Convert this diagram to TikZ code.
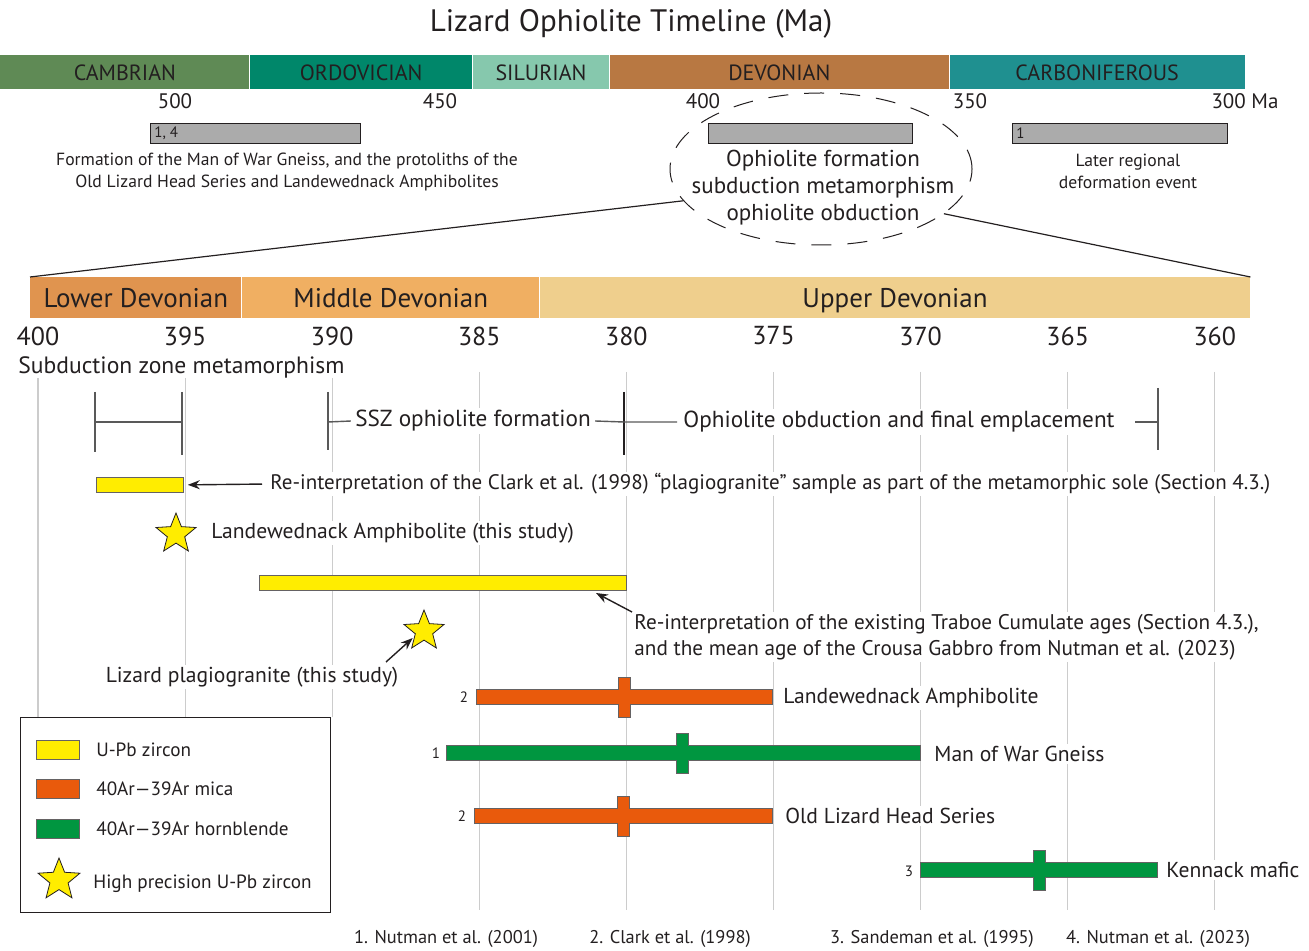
\documentclass[tikz,border=0pt]{standalone}
\usepackage{fontspec}
\setmainfont{PT Sans}
\usetikzlibrary{positioning}
\usetikzlibrary{shapes.geometric}
\usetikzlibrary{arrows.meta}
\definecolor{cambrian}{HTML}{5F8A55}
\definecolor{ordovician}{HTML}{00876A}
\definecolor{silurian}{HTML}{86C8AD}
\definecolor{devonian}{HTML}{B87842}
\definecolor{carbonif}{HTML}{1F9090}
\definecolor{lowdev}{HTML}{E0944F}
\definecolor{middev}{HTML}{F0AF62}
\definecolor{uppdev}{HTML}{EFCF8D}
\definecolor{zircon}{HTML}{FFED00}
\definecolor{mica}{HTML}{E95A0C}
\definecolor{hornbl}{HTML}{009640}
\definecolor{ink}{HTML}{231F20}
\definecolor{greyage}{HTML}{ABABAB}
\tikzset{
    period/.style = {rectangle, inner sep=0pt, minimum height=17pt, anchor=north west, text=ink, font=\fontsize{11}{13}\selectfont},
    stage/.style = {rectangle, inner sep=0pt, minimum height=20.5pt, anchor=north west, text=ink, text height=2ex, text depth=0ex, font=\fontsize{13.5}{15}\selectfont},
    tick/.style = {text=ink, font=\fontsize{13}{15}\selectfont, inner sep=0pt},
    mytick/.style = {text=ink, font=\fontsize{10.5}{12}\selectfont, inner sep=0pt},
    greybar/.style = {rectangle, draw=ink, fill=greyage, line width=0.4pt, inner sep=0pt, minimum height=10pt, anchor=north west},
    note/.style = {text=ink, align=center, font=\fontsize{8.8}{11}\selectfont, inner sep=0pt},
    lbl/.style = {text=ink, fill=white, font=\fontsize{10.8}{13}\selectfont, inner sep=1pt},
    grid/.style = {gray!40, line width=0.6pt},
    bracket/.style = {gray!70!black, line width=0.7pt},
    arr/.style = {-{Stealth[length=6pt,width=4.5pt]}, ink, line width=0.7pt},
    ubar/.style = {rectangle, draw=ink!70, fill=zircon, line width=0.4pt, inner sep=0pt, minimum height=7.5pt, anchor=north west},
    starz/.style = {star, star points=5, star point ratio=2.3, draw=ink, fill=zircon, minimum size=21pt, inner sep=0pt, line width=0.4pt},
    agebar/.style = {draw=ink!70, line width=0.4pt},
    barno/.style = {text=ink, font=\fontsize{7.5}{8}\selectfont, inner sep=0pt},
    ref/.style = {text=ink, font=\fontsize{9.2}{10}\selectfont, inner sep=0pt},
    swatch/.style = {rectangle, draw=ink!70, line width=0.4pt, minimum width=21.5pt, minimum height=9.5pt, inner sep=0pt},
    legtext/.style = {text=ink, font=\fontsize{9.6}{11}\selectfont, inner sep=0pt},
}
\newcommand{\xt}[1]{38+(400-#1)*29.42}
% cross-shaped age bar: x1, x2, centre x, centre y, colour
\newcommand{\crossbar}[5]{%
  \draw[agebar, fill=#5] (#1,#4-7.5) -- (#3-6,#4-7.5) -- (#3-6,#4-20) -- (#3+6,#4-20) -- (#3+6,#4-7.5) -- (#2,#4-7.5)
    -- (#2,#4+7.5) -- (#3+6,#4+7.5) -- (#3+6,#4+20) -- (#3-6,#4+20) -- (#3-6,#4+7.5) -- (#1,#4+7.5) -- cycle;}

\begin{document}
\begin{tikzpicture}[x=0.5pt, y=-0.5pt]
\useasboundingbox (0,0) rectangle (1309,951);

% grid of the Devonian scale
\foreach \t in {400,395,390}
  \draw[grid] ({\xt{\t}},378) -- ({\xt{\t}},717);
\foreach \t in {385,380,...,360}
  \draw[grid] ({\xt{\t}},372) -- ({\xt{\t}},910);

\node[font=\fontsize{15.5}{17}\selectfont, text=ink] (title) at (631,24) {Lizard Ophiolite Timeline (Ma)};

% geological periods
\node[period, fill=cambrian, minimum width=124.5pt] (cam) at (0,55) {CAMBRIAN};
\node[period, fill=ordovician, minimum width=111pt, right=0pt of cam] (ord) {ORDOVICIAN};
\node[period, fill=silurian, minimum width=68pt, right=0pt of ord] (sil) {SILURIAN};
\node[period, fill=devonian, minimum width=169.5pt, right=0pt of sil] (dev) {DEVONIAN};
\node[period, fill=carbonif, minimum width=147.5pt, right=0pt of dev] (carb) {CARBONIFEROUS};

\node[mytick] (m500) at (175,101) {500};
\node[mytick] (m450) at (440,101) {450};
\node[mytick] (m400) at (703,101) {400};
\node[mytick] (m350) at (970,101) {350};
\node[mytick] (m300) at (1245,101) {300 Ma};

\node[greybar, minimum width=105pt] (gb1) at (150,123) {};
\node[greybar, minimum width=102pt] (gb2) at (708,123) {};
\node[greybar, minimum width=107.5pt] (gb3) at (1012,123) {};
\node[barno, right=2pt of gb1.west] (gb1n) {1, 4};
\node[barno, right=2pt of gb3.west] (gb3n) {1};

\node[note] (protolith) at (287,172) {Formation of the Man of War Gneiss, and the protoliths of the\\Old Lizard Head Series and Landewednack Amphibolites};
\node[note] (laterdef) at (1128,171) {Later regional\\deformation event};
\node[note, font=\fontsize{11.5}{13.5}\selectfont] (ophnote) at (823,188) {Ophiolite formation\\subduction metamorphism\\ophiolite obduction};
\node[ellipse, draw=ink, line width=0.5pt, dash pattern=on 10pt off 8pt, minimum width=151pt, minimum height=76pt] (oval) at (821,169) {};

% Devonian stages
\node[stage, fill=lowdev, minimum width=105.5pt] (lower) at (30,277) {Lower Devonian};
\node[stage, fill=middev, minimum width=148.5pt, right=0pt of lower] (middle) {Middle Devonian};
\node[stage, fill=uppdev, minimum width=355pt, right=0pt of middle] (upper) {Upper Devonian};
\draw[ink, line width=0.6pt] (oval.193) -- (lower.north west);
\draw[ink, line width=0.6pt] (oval.340) -- (upper.north east);

\foreach \t in {400,395,...,360}
  \node[tick] (t\t) at ({\xt{\t}},336) {\t};

% events
\node[lbl, fill=none, anchor=west, font=\fontsize{11.8}{13}\selectfont] (subzone) at (16,367) {Subduction zone metamorphism};
\draw[bracket] (95,392) -- (95,452);
\draw[bracket] (182,392) -- (182,455);
\draw[bracket] (95,422) -- (182,422);

\node[lbl, inner xsep=2pt, font=\fontsize{11.6}{13}\selectfont] (ssz) at (473,421) {SSZ ophiolite formation};
\node[lbl, inner xsep=3pt, font=\fontsize{11.6}{13}\selectfont] (obd) at (899,422) {Ophiolite obduction and final emplacement};
\coordinate (sszL) at (328,422);
\coordinate (sszR) at (624,422);
\coordinate (obdR) at (1135,422);
\coordinate (obdE) at (1158,422);
\draw[bracket] (328,392) -- (328,450);
\draw[ink, line width=0.7pt] (624,392) -- (624,455);
\draw[bracket] (1158,388) -- (1158,450);
\draw[bracket] (sszL) -- (ssz.west);
\draw[bracket] (ssz.east) -- (sszR) -- (obd.west);
\draw[bracket] (obdR) -- (obdE);

\node[ubar, minimum width=43.5pt] (ub1) at (96,477) {};
\node[lbl, anchor=west, font=\fontsize{10.5}{13}\selectfont] (reclark) at (268,484) {Re-interpretation of the Clark et al. (1998) “plagiogranite” sample as part of the metamorphic sole (Section 4.3.)};
\draw[arr, shorten >=2pt, shorten <=3pt] (reclark.west) -- (ub1.east);

\node[starz] (star1) at (176,534) {};
\node[lbl, anchor=west] (landstudy) at (209,533) {Landewednack Amphibolite (this study)};

\node[ubar, minimum width=183.5pt] (ub2) at (259,575) {};
\node[lbl, anchor=north west, align=left, font=\fontsize{10.6}{13}\selectfont] (traboe) at (632,612) {Re-interpretation of the existing Traboe Cumulate ages (Section 4.3.),\\and the mean age of the Crousa Gabbro from Nutman et al. (2023)};
\coordinate (ub2tip) at (596,593);
\draw[arr] (traboe.north west) -- (ub2tip);

\node[starz] (star2) at (424,631) {};
\node[lbl] (lizard) at (252,677) {Lizard plagiogranite (this study)};
\coordinate (lzfoot) at (386,662);
\draw[arr, shorten >=1pt] (lzfoot) -- (star2.210);

% 40Ar-39Ar ages
\crossbar{476}{772}{624}{697}{mica}
\node[barno] (n1) at (464,697) {2};
\node[lbl, anchor=west] (landamph) at (781,698) {Landewednack Amphibolite};
\crossbar{446}{920}{682}{753}{hornbl}
\node[barno] (n2) at (436,753) {1};
\node[lbl, anchor=west] (manofwar) at (932,754) {Man of War Gneiss};
\crossbar{474}{772}{623}{816}{mica}
\node[barno] (n3) at (462,816) {2};
\node[lbl, anchor=west] (oldlizard) at (783,816) {Old Lizard Head Series};
\crossbar{920}{1157}{1039}{870}{hornbl}
\node[barno] (n4) at (909,871) {3};
\node[lbl, anchor=west] (kennack) at (1164,870) {Kennack mafic};

% references
\node[ref] (ref1) at (446,939) {1. Nutman et al. (2001)};
\node[ref] (ref2) at (670,939) {2. Clark et al. (1998)};
\node[ref] (ref3) at (932,939) {3. Sandeman et al. (1995)};
\node[ref] (ref4) at (1158,939) {4. Nutman et al. (2023)};

% legend
\node[draw=ink, line width=0.5pt, fill=white, minimum width=155pt, minimum height=97.5pt, anchor=north west, inner sep=0pt] (legend) at (20,717) {};
\node[swatch, fill=zircon] (sw1) at (58,750) {};
\node[swatch, fill=mica] (sw2) at (58,789) {};
\node[swatch, fill=hornbl] (sw3) at (58,829) {};
\node[starz, minimum size=22pt] (sw4) at (59,880) {};
\node[legtext, right=8pt of sw1] (lg1) {U-Pb zircon};
\node[legtext, right=8pt of sw2] (lg2) {40Ar—39Ar mica};
\node[legtext, right=8pt of sw3] (lg3) {40Ar—39Ar hornblende};
\node[legtext, anchor=west] (lg4) at (93,884) {High precision U-Pb zircon};

\end{tikzpicture}
\end{document}
